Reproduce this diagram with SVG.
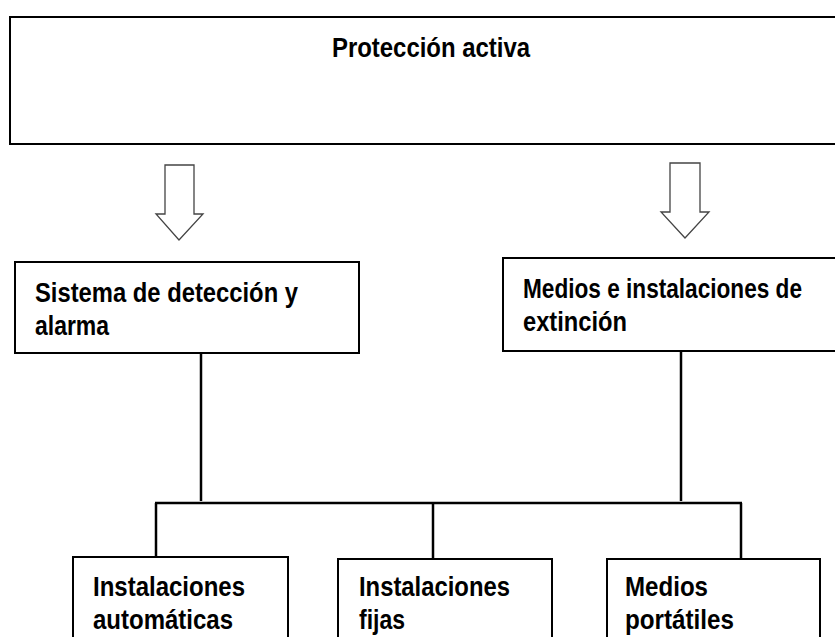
<svg xmlns="http://www.w3.org/2000/svg" width="835" height="637" viewBox="0 0 835 637">
<style>
.box{fill:#fff;stroke:#000;stroke-width:2}
.arrow{fill:#fff;stroke:#444;stroke-width:1.3}
.ln{stroke:#000;stroke-width:2.5;fill:none}
text{font-family:"Liberation Sans",Arial,sans-serif;font-weight:bold;font-size:27px;fill:#000}
</style>
<rect width="835" height="637" fill="#fff"/>
<g id="proteccion-activa">
<rect class="box" x="10" y="17" width="840" height="127"/>
<text x="332" y="57" textLength="198" lengthAdjust="spacingAndGlyphs">Protección activa</text>
</g>
<g id="arrows">
<polygon class="arrow" points="165,165 194,165 194,214 203,214 179,240 156,214 165,214"/>
<polygon class="arrow" points="670,163 700,163 700,212 709,212 685,238 661,212 670,212"/>
</g>
<g id="deteccion">
<rect class="box" x="15" y="262" width="344" height="91"/>
<text x="35" y="302" textLength="263" lengthAdjust="spacingAndGlyphs">Sistema de detección y</text>
<text x="35" y="335" textLength="74" lengthAdjust="spacingAndGlyphs">alarma</text>
</g>
<g id="extincion">
<rect class="box" x="503" y="258" width="345" height="93"/>
<text x="523" y="298" textLength="279" lengthAdjust="spacingAndGlyphs">Medios e instalaciones de</text>
<text x="523" y="331" textLength="104" lengthAdjust="spacingAndGlyphs">extinción</text>
</g>
<g id="connectors">
<line class="ln" x1="201" y1="353" x2="201" y2="501"/>
<line class="ln" x1="681" y1="351" x2="681" y2="501"/>
<line class="ln" x1="155" y1="503" x2="742" y2="503"/>
<line class="ln" x1="156" y1="503" x2="156" y2="557"/>
<line class="ln" x1="433" y1="503" x2="433" y2="559"/>
<line class="ln" x1="741" y1="503" x2="741" y2="559"/>
</g>
<g id="instalaciones-automaticas">
<rect class="box" x="73" y="557" width="215" height="100"/>
<text x="93" y="596" textLength="152" lengthAdjust="spacingAndGlyphs">Instalaciones</text>
<text x="93" y="629" textLength="140" lengthAdjust="spacingAndGlyphs">automáticas</text>
</g>
<g id="instalaciones-fijas">
<rect class="box" x="338" y="559" width="214" height="100"/>
<text x="359" y="596" textLength="151" lengthAdjust="spacingAndGlyphs">Instalaciones</text>
<text x="359" y="629" textLength="46" lengthAdjust="spacingAndGlyphs">fijas</text>
</g>
<g id="medios-portatiles">
<rect class="box" x="607" y="559" width="213" height="100"/>
<text x="625" y="596" textLength="83" lengthAdjust="spacingAndGlyphs">Medios</text>
<text x="625" y="629" textLength="109" lengthAdjust="spacingAndGlyphs">portátiles</text>
</g>
</svg>
